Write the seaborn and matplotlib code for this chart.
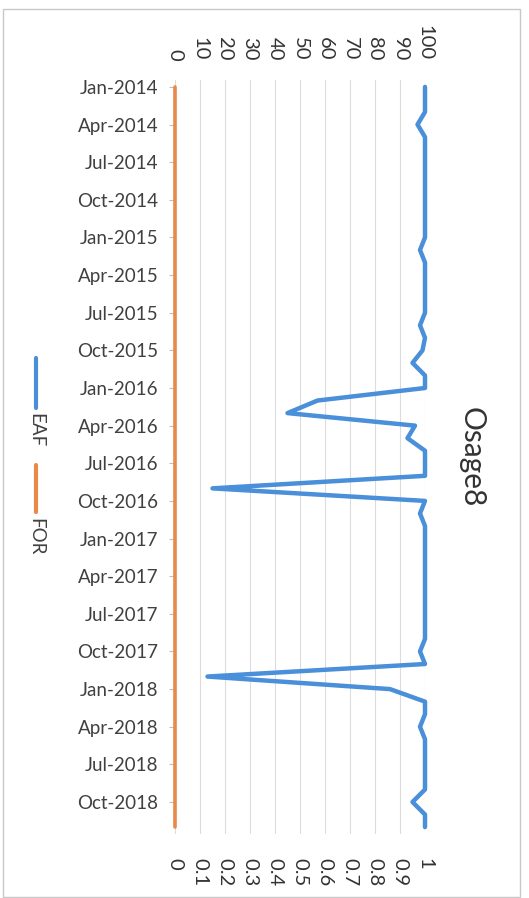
import matplotlib
matplotlib.use("Agg")
import matplotlib.pyplot as plt
from matplotlib.lines import Line2D
from matplotlib.patches import Rectangle
import numpy as np
import pandas as pd
import seaborn as sns

# Monthly series, Jan-2014 .. Dec-2018
months = pd.date_range("2014-01-01", periods=60, freq="MS")
eaf = [100, 100, 100, 97, 100, 100, 100, 100, 100, 100, 100, 100,   # 2014
       100, 98, 100, 100, 100, 100, 100, 98, 100, 99, 95, 100,      # 2015
       100, 57, 45, 96, 93, 100, 100, 100, 15, 100, 98, 100,        # 2016
       100, 100, 100, 100, 100, 100, 100, 100, 100, 98, 100, 13,    # 2017
       86, 100, 100, 98, 100, 100, 100, 100, 100, 95, 100, 100]     # 2018
for_rate = [0.0] * 60

eaf_ticks = [0, 10, 20, 30, 40, 50, 60, 70, 80, 90, 100]
for_ticks = [0, 0.1, 0.2, 0.3, 0.4, 0.5, 0.6, 0.7, 0.8, 0.9, 1]
for_tick_labels = ["0", "0.1", "0.2", "0.3", "0.4", "0.5", "0.6", "0.7", "0.8", "0.9", "1"]
date_labels = [d.strftime("%b-%Y") for d in months[::3]]

df = pd.DataFrame({"month": np.arange(len(months)), "EAF": eaf, "FOR": for_rate})

sns.set_theme(style="white")
plt.rcParams["font.family"] = ["Lato", "DejaVu Sans"]

W, H = 529, 898
fig = plt.figure(figsize=(W / 100, H / 100), dpi=100)
fig.patch.set_facecolor("white")

left, right, top, bottom = 175, 425, 80, 834
ax = fig.add_axes([left / W, 1 - bottom / H, (right - left) / W, (bottom - top) / H])
ax2 = ax.twiny()

blue = "#4a8fd9"
orange = "#e8894a"

sns.lineplot(data=df, x="EAF", y="month", orient="y", sort=False, estimator=None,
             ax=ax, color=blue, lw=3.2, clip_on=False, legend=False)
sns.lineplot(data=df, x="FOR", y="month", orient="y", sort=False, estimator=None,
             ax=ax2, color=orange, lw=2.6, clip_on=False, legend=False)

ax.set_xlim(0, 100)
ax2.set_xlim(0, 1)
ax.set_ylim(59.55, -0.55)

# primary value axis on top, secondary on bottom
ax.xaxis.tick_top()
ax.set_xticks(eaf_ticks)
ax.set_xticklabels([str(t) for t in eaf_ticks])
ax.tick_params(axis="x", length=0, pad=14, labelsize=14.5, labelrotation=-90,
               labelcolor="#333333")
ax2.xaxis.set_ticks_position("bottom")
ax2.xaxis.set_label_position("bottom")
ax2.set_xticks(for_ticks)
ax2.set_xticklabels(for_tick_labels)
ax2.tick_params(axis="x", length=0, pad=17, labelsize=14.5, labelrotation=-90,
                labelcolor="#333333", top=False, labeltop=False,
                bottom=True, labelbottom=True)

ax.set_yticks(np.arange(0, 60, 3))
ax.set_yticklabels(date_labels)
ax.tick_params(axis="y", left=True, length=4, width=0.8, color="#bfbfbf",
               pad=8, labelsize=13.5, labelcolor="#404040")

ax.grid(axis="x", color="#dcdcdc", lw=0.8)
ax.grid(axis="y", visible=False)
ax.set_xlabel("")
ax.set_ylabel("")
ax2.set_xlabel("")
ax2.set_ylabel("")
for a in (ax, ax2):
    for s in a.spines.values():
        s.set_visible(False)

# title
fig.text(472 / W, 1 - 457 / H, "Osage8", rotation=-90, ha="center", va="center",
         fontsize=21.5, color="#333333")

# legend, laid out along the left edge
def legend_entry(y0, y1, ty, color, label):
    fig.add_artist(Line2D([36 / W, 36 / W], [1 - y0 / H, 1 - y1 / H],
                          transform=fig.transFigure, color=color, lw=3,
                          solid_capstyle="round"))
    fig.text(36 / W, 1 - ty / H, label, rotation=-90, ha="center", va="center",
             fontsize=13.5, color="#404040")

legend_entry(358, 408, 430, blue, "EAF")
legend_entry(465, 512, 537, orange, "FOR")

# chart border
fig.add_artist(Rectangle((3 / W, 1 - 897 / H), (520 - 3) / W, (897 - 9) / H,
                         transform=fig.transFigure, fill=False,
                         edgecolor="#c8c8c8", lw=1))

fig.savefig("out.png", dpi=100)
